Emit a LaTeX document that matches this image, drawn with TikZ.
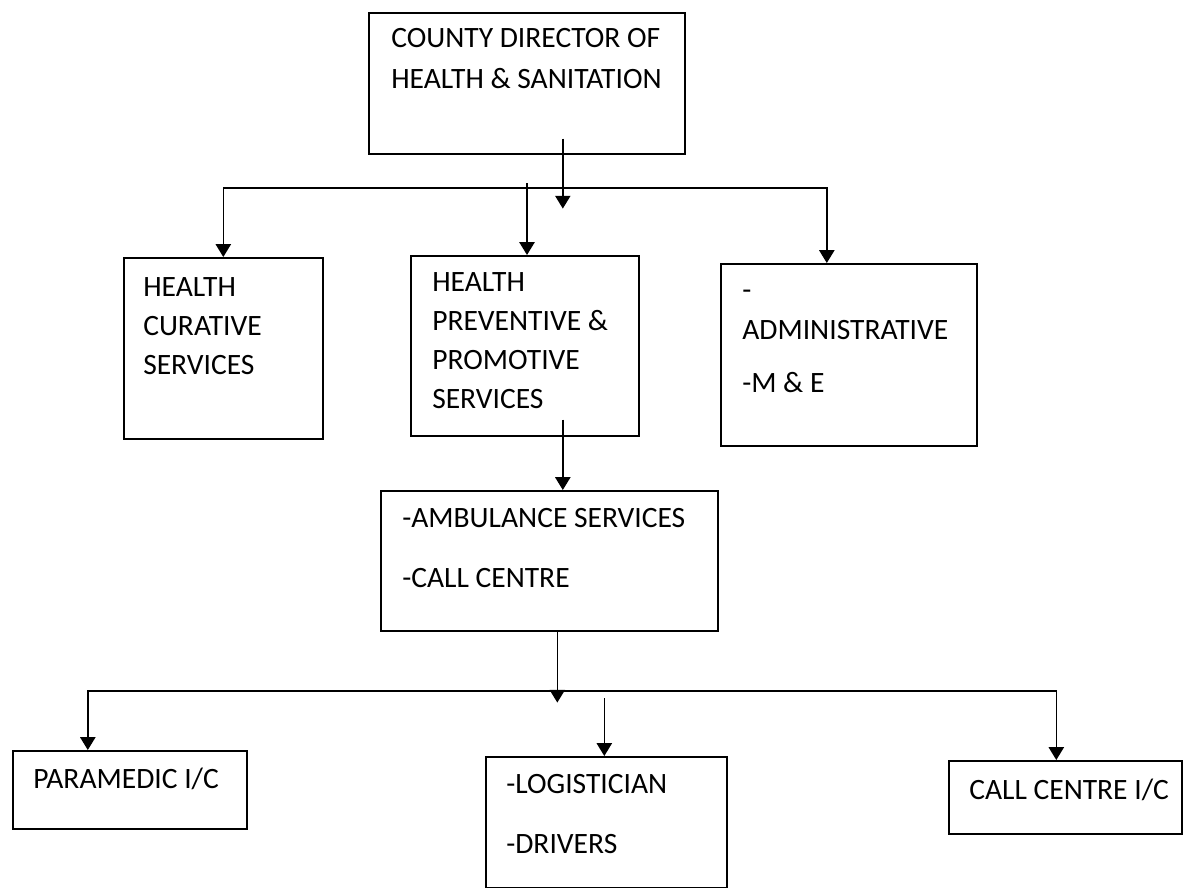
\documentclass[tikz,border=0pt]{standalone}
\usepackage{fontspec}
\setmainfont{Carlito}
\usetikzlibrary{arrows.meta}
\begin{document}
\begin{tikzpicture}[x=0.025cm,y=-0.025cm,
      box/.style={draw,line width=1.1pt,anchor=north west,inner sep=0pt},
      txt/.style={anchor=base west,align=left,inner sep=0pt,
            font=\fontsize{21pt}{27.6pt}\selectfont},
      arr/.style={line width=1.1pt,-{Triangle[width=0.38cm,length=0.32cm]}}]
      \useasboundingbox (0,0) rectangle (1186,888);

      \node[box,minimum width=7.9cm,minimum height=3.525cm] (director) at (368,12) {};
      \node[box,minimum width=4.975cm,minimum height=4.525cm] (curative) at (123,257) {};
      \node[box,minimum width=5.7cm,minimum height=4.5cm] (preventive) at (410,255) {};
      \node[box,minimum width=6.4cm,minimum height=4.55cm] (admin) at (720,263) {};
      \node[box,minimum width=8.425cm,minimum height=3.5cm] (ambulance) at (380,490) {};
      \node[box,minimum width=5.85cm,minimum height=1.95cm] (paramedic) at (12,750) {};
      \node[box,minimum width=6.025cm,minimum height=3.275cm] (logistician) at (485,756) {};
      \node[box,minimum width=5.825cm,minimum height=1.825cm] (callcentre) at (948,760) {};

      \node[txt] (director-t) at (391,88)
            {COUNTY DIRECTOR OF\\[1pt]HEALTH \& SANITATION};
      \node[txt] (curative-t) at (143,374)
            {HEALTH\\CURATIVE\\SERVICES};
      \node[txt] (preventive-t) at (432,408)
            {HEALTH\\PREVENTIVE \&\\PROMOTIVE\\SERVICES};
      \node[txt] (admin-t) at (742,392)
            {-\\[1.4pt]ADMINISTRATIVE\\[9.4pt]-M \& E};
      \node[txt] (ambulance-t) at (402,587)
            {-AMBULANCE SERVICES\\[15pt]-CALL CENTRE};
      \node[txt] (paramedic-t) at (33,788) {PARAMEDIC I/C};
      \node[txt] (logistician-t) at (506,853)
            {-LOGISTICIAN\\[15pt]-DRIVERS};
      \node[txt] (callcentre-t) at (969,799) {CALL CENTRE I/C};

      \coordinate (bus1) at (527,188);
      \coordinate (bus2) at (556,691);

      \draw[arr] ([shift={(36,-16)}]director.south) -- ++(0,70);
      \draw[arr] (bus1) -| (curative.north);
      \draw[arr] (bus1) -| ([shift={(-22,0)}]admin.north);
      \draw[arr] ([shift={(0,-5)}]bus1) -- (bus1 |- preventive.north);

      \draw[arr] ([shift={(38,-17)}]preventive.south)
            -- ([shift={(38,0)}]preventive.south |- ambulance.north);
      \draw[arr] ([shift={(8,0)}]ambulance.south) -- ++(0,71);

      \draw[arr] (bus2) -| ([shift={(-42,0)}]paramedic.north);
      \draw[arr] (bus2) -| ([shift={(-9,0)}]callcentre.north);
      \draw[arr] ([shift={(-2,-58)}]logistician.north) -- ([shift={(-2,0)}]logistician.north);
\end{tikzpicture}
\end{document}
